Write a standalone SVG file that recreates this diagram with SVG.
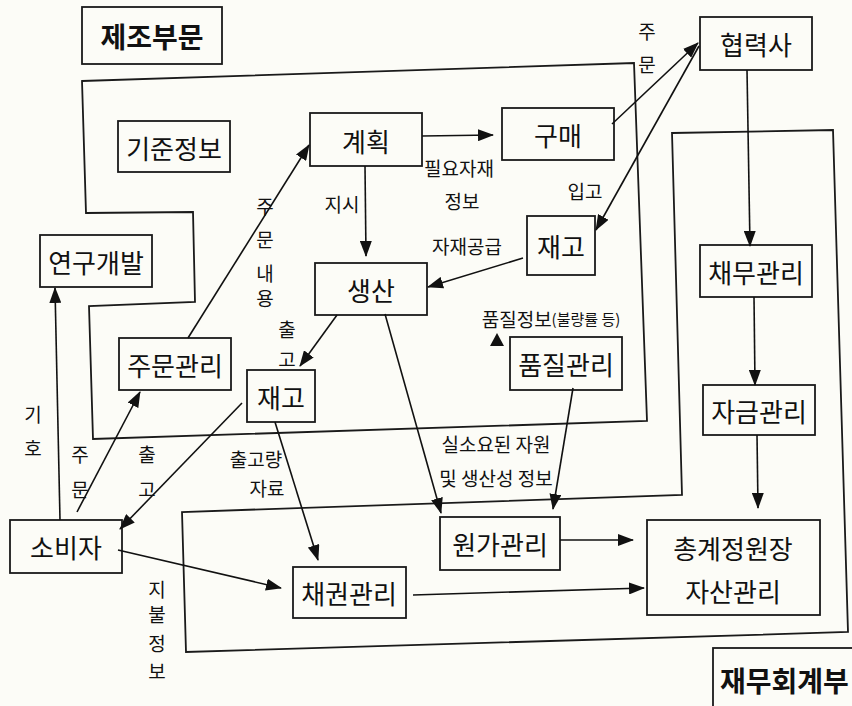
<svg xmlns="http://www.w3.org/2000/svg" width="852" height="706" viewBox="0 0 852 706">
<defs>
<marker id="ah" markerWidth="16" markerHeight="12" refX="15" refY="6" orient="auto" markerUnits="userSpaceOnUse"><path d="M0,0 L16,6 L0,12 z" fill="#111"/></marker>
<style>
.bx{fill:none;stroke:#1a1a1a;stroke-width:1.8}
.bd{fill:none;stroke:#1a1a1a;stroke-width:1.8}
.nt{font-family:"Noto Sans CJK KR","Noto Sans",sans-serif;font-size:26px;fill:#111;text-anchor:middle;dominant-baseline:central}
.tt{font-family:"Noto Sans CJK KR","Noto Sans",sans-serif;font-size:28px;font-weight:bold;fill:#111;dominant-baseline:central}
.lb{font-family:"Noto Sans CJK KR","Noto Sans",sans-serif;font-size:19px;fill:#111;text-anchor:middle;dominant-baseline:central}
.cn line{stroke:#111;stroke-width:1.6;fill:none;marker-end:url(#ah)}
</style>
</defs>
<rect width="852" height="706" fill="#fcfcf7"/>
<g id="manufacturing-area"><polygon class="bd" points="82,81 634,63 647,421 93,439 89,306 195,302 193,212 86,213"/></g>
<g id="finance-area"><polygon class="bd" points="672,133 833,130 848,632 186,652 182,512 682,495"/></g>
<g id="title-mfg"><rect class="bx" x="82" y="7" width="140" height="57"/><text class="tt" x="152" y="36" text-anchor="middle">제조부문</text></g>
<g id="title-fin"><rect class="bx" x="713" y="648" width="150" height="64"/><text class="tt" x="720" y="680">재무회계부</text></g>
<g id="n-gijun"><rect class="bx" x="118" y="121" width="112" height="51"/><text class="nt" x="174" y="147">기준정보</text></g>
<g id="n-plan"><rect class="bx" x="310" y="113" width="112" height="53"/><text class="nt" x="366" y="140">계획</text></g>
<g id="n-purchase"><rect class="bx" x="502" y="108" width="112" height="52"/><text class="nt" x="558" y="134">구매</text></g>
<g id="n-partner"><rect class="bx" x="700" y="17" width="112" height="53"/><text class="nt" x="756" y="43">협력사</text></g>
<g id="n-stock1"><rect class="bx" x="527" y="216" width="68" height="59"/><text class="nt" x="561" y="245">재고</text></g>
<g id="n-prod"><rect class="bx" x="315" y="263" width="112" height="52"/><text class="nt" x="371" y="289">생산</text></g>
<g id="n-rnd"><rect class="bx" x="40" y="235" width="112" height="52"/><text class="nt" x="96" y="261">연구개발</text></g>
<g id="n-order"><rect class="bx" x="119" y="338" width="112" height="52"/><text class="nt" x="175" y="364">주문관리</text></g>
<g id="n-stock2"><rect class="bx" x="247" y="370" width="68" height="52"/><text class="nt" x="281" y="396">재고</text></g>
<g id="n-quality"><rect class="bx" x="510" y="337" width="112" height="53"/><text class="nt" x="566" y="363">품질관리</text></g>
<g id="n-debt"><rect class="bx" x="700" y="245" width="112" height="52"/><text class="nt" x="756" y="271">채무관리</text></g>
<g id="n-fund"><rect class="bx" x="703" y="385" width="112" height="50"/><text class="nt" x="759" y="410">자금관리</text></g>
<g id="n-consumer"><rect class="bx" x="10" y="520" width="112" height="53"/><text class="nt" x="66" y="546">소비자</text></g>
<g id="n-receivable"><rect class="bx" x="293" y="567" width="113" height="51"/><text class="nt" x="349" y="592">채권관리</text></g>
<g id="n-cost"><rect class="bx" x="440" y="517" width="120" height="53"/><text class="nt" x="500" y="543">원가관리</text></g>
<g id="n-ledger"><rect class="bx" x="647" y="520" width="173" height="95"/><text class="nt" x="733" y="547">총계정원장</text><text class="nt" x="733" y="590">자산관리</text></g>
<g id="connectors" class="cn">
<line x1="422" y1="136" x2="493" y2="135"/>
<line x1="612" y1="124" x2="698" y2="43"/>
<line x1="699" y1="46" x2="596" y2="230"/>
<line x1="747" y1="70" x2="750" y2="246"/>
<line x1="754" y1="297" x2="755" y2="385"/>
<line x1="757" y1="435" x2="758" y2="508"/>
<line x1="365" y1="166" x2="366" y2="256"/>
<line x1="523" y1="258" x2="428" y2="287"/>
<line x1="188" y1="338" x2="309" y2="145"/>
<line x1="337" y1="315" x2="300" y2="366"/>
<line x1="385" y1="314" x2="441" y2="513"/>
<line x1="573" y1="388" x2="553" y2="509"/>
<line x1="560" y1="540" x2="633" y2="540"/>
<line x1="413" y1="595" x2="644" y2="588"/>
<line x1="118" y1="550" x2="281" y2="588"/>
<line x1="77" y1="512" x2="140" y2="392"/>
<line x1="242" y1="403" x2="120" y2="529"/>
<line x1="60" y1="520" x2="55" y2="288"/>
<line x1="275" y1="422" x2="318" y2="560"/>
<path d="M497,333 L504,346 L490,346 z" fill="#111" stroke="none"/>
</g>
<g id="labels">
<text class="lb" x="647" y="30">주</text>
<text class="lb" x="647" y="63">문</text>
<text class="lb" x="459" y="167">필요자재</text>
<text class="lb" x="462" y="200">정보</text>
<text class="lb" x="585" y="190">입고</text>
<text class="lb" x="342" y="203">지시</text>
<text class="lb" x="467" y="245">자재공급</text>
<text class="lb" x="551" y="318">품질정보<tspan font-size="15px">(불량률 등)</tspan></text>
<text class="lb" x="265" y="205">주</text>
<text class="lb" x="265" y="238">문</text>
<text class="lb" x="265" y="272">내</text>
<text class="lb" x="265" y="297">용</text>
<text class="lb" x="287" y="328">출</text>
<text class="lb" x="287" y="358">고</text>
<text class="lb" x="33" y="413">기</text>
<text class="lb" x="33" y="447">호</text>
<text class="lb" x="80" y="453">주</text>
<text class="lb" x="80" y="488">문</text>
<text class="lb" x="147" y="453">출</text>
<text class="lb" x="147" y="488">고</text>
<text class="lb" x="256" y="458">출고량</text>
<text class="lb" x="267" y="487">자료</text>
<text class="lb" x="496" y="443">실소요된 자원</text>
<text class="lb" x="496" y="477">및 생산성 정보</text>
<text class="lb" x="157" y="588">지</text>
<text class="lb" x="157" y="613">불</text>
<text class="lb" x="157" y="642">정</text>
<text class="lb" x="157" y="670">보</text>
</g>
</svg>
